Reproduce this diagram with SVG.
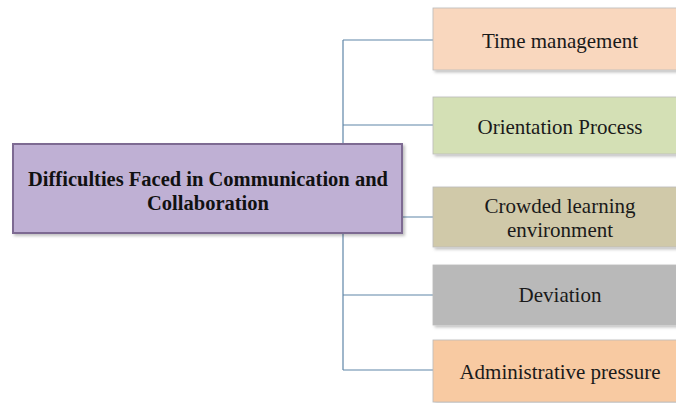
<svg xmlns="http://www.w3.org/2000/svg" width="676" height="403" viewBox="0 0 676 403">
<defs>
<style>
.t{font-family:"Liberation Serif","Times New Roman",serif;font-size:21px;fill:#1a1a1a;text-anchor:middle}
.m{font-family:"Liberation Serif","Times New Roman",serif;font-size:20.5px;font-weight:bold;fill:#111;text-anchor:middle}
.c{fill:none;stroke:#5f86a8;stroke-width:1.2}
.b{stroke:#bbb;stroke-width:0.8}
</style>
<filter id="sh" x="-5%" y="-10%" width="115%" height="130%"><feDropShadow dx="2" dy="2" stdDeviation="1.5" flood-color="#000" flood-opacity="0.25"/></filter>
</defs>
<rect width="676" height="403" fill="#fff"/>
<g id="connectors">
<path class="c" d="M343 40 V144 M343 233 V370 M343 40 H433 M343 125 H433 M402 217 H433 M343 295 H433 M343 370 H433"/>
</g>
<g id="main">
<rect x="13" y="144" width="389" height="89" fill="#bfb0d4" stroke="#7d6a92" stroke-width="2" filter="url(#sh)"/>
<text class="m" x="208" y="186">Difficulties Faced in Communication and</text>
<text class="m" x="208" y="210">Collaboration</text>
</g>
<g id="n1">
<rect class="b" x="433" y="8" width="250" height="62" fill="#f9d7be" filter="url(#sh)"/>
<text class="t" x="560" y="48">Time management</text>
</g>
<g id="n2">
<rect class="b" x="433" y="97" width="250" height="57" fill="#d4e0b5" filter="url(#sh)"/>
<text class="t" x="560" y="134">Orientation Process</text>
</g>
<g id="n3">
<rect class="b" x="433" y="187" width="250" height="60" fill="#d0c9a9" filter="url(#sh)"/>
<text class="t" x="560" y="213">Crowded learning</text>
<text class="t" x="560" y="237">environment</text>
</g>
<g id="n4">
<rect class="b" x="433" y="265" width="250" height="60" fill="#b9b9b9" filter="url(#sh)"/>
<text class="t" x="560" y="302">Deviation</text>
</g>
<g id="n5">
<rect class="b" x="433" y="340" width="250" height="62" fill="#f8caa2" filter="url(#sh)"/>
<text class="t" x="560" y="379">Administrative pressure</text>
</g>
</svg>
